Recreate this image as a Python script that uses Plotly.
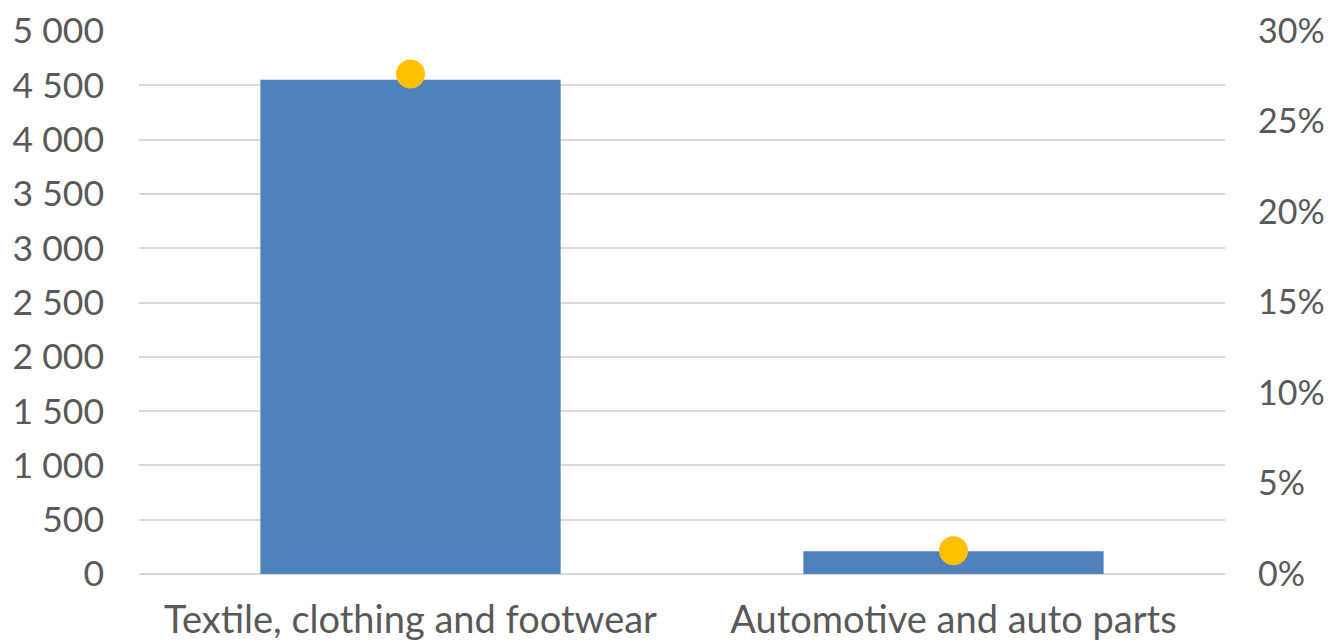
import plotly.graph_objects as go

categories = ["Textile, clothing and footwear", "Automotive and auto parts"]
bar_values = [4550, 209]
share_values = [0.2762, 0.0129]
left_tickvals = [0, 500, 1000, 1500, 2000, 2500, 3000, 3500, 4000, 4500, 5000]
left_ticktext = ["0", "500", "1 000", "1 500", "2 000", "2 500", "3 000", "3 500", "4 000", "4 500", "5 000"]
right_tickvals = [0, 0.05, 0.10, 0.15, 0.20, 0.25, 0.30]
right_ticktext = ["0%", "5%", "10%", "15%", "20%", "25%", "30%"]

FONT = "Lato"
TXT = "#595959"

fig = go.Figure()
fig.add_trace(go.Bar(x=categories, y=bar_values, marker=dict(color="#4F81BD", line=dict(width=0)),
                     yaxis="y", showlegend=False))
fig.add_trace(go.Scatter(x=categories, y=share_values, mode="markers",
                         marker=dict(color="#FFC000", size=29, line=dict(width=0)),
                         yaxis="y2", showlegend=False))

fig.update_layout(
    width=1331, height=644,
    margin=dict(l=139, r=106, t=31, b=70),
    paper_bgcolor="white", plot_bgcolor="white",
    font=dict(family=FONT, size=34, color=TXT),
    bargap=0.447,
    xaxis=dict(showgrid=False, showline=False, ticks="", ticklabelstandoff=20,
               automargin=False, tickfont=dict(size=38, color=TXT)),
    yaxis=dict(range=[0, 5000], tickvals=left_tickvals, ticktext=left_ticktext,
               showgrid=True, gridcolor="#d9d9d9", gridwidth=1.5, zeroline=True,
               zerolinecolor="#d9d9d9", zerolinewidth=1.5, showline=False, ticks="",
               automargin=False, ticklabelstandoff=34, tickfont=dict(size=35.5, color=TXT)),
    yaxis2=dict(range=[0, 0.30], tickvals=right_tickvals, ticktext=right_ticktext,
                overlaying="y", side="right", showgrid=False, zeroline=False,
                showline=False, ticks="", automargin=False, ticklabelstandoff=32,
                tickfont=dict(size=34, color=TXT)),
)

fig.write_html("out.html")
